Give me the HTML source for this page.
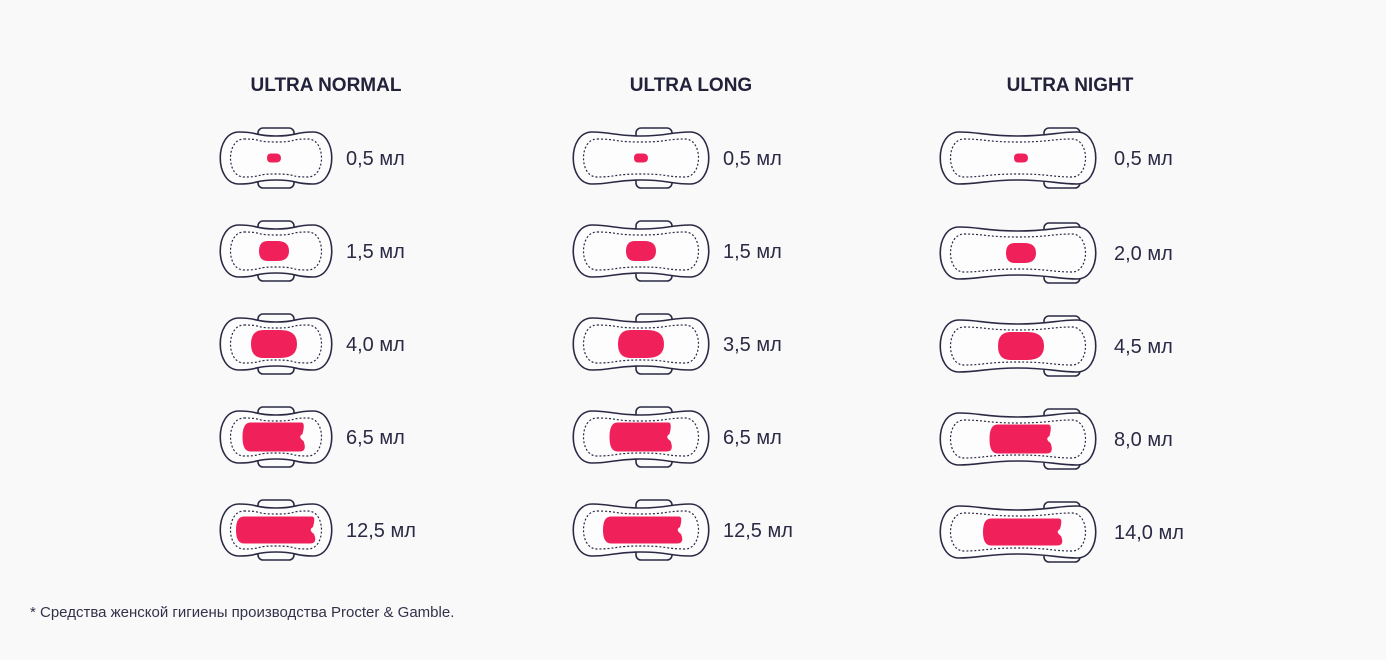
<!DOCTYPE html>
<html><head><meta charset="utf-8"><style>
body{margin:0;background:#f9f9f9;width:1386px;height:655px;overflow:hidden;font-family:"Liberation Sans","DejaVu Sans",sans-serif}
</style></head><body>
<svg id="s" width="1386" height="655" xmlns="http://www.w3.org/2000/svg">
<rect width="1386" height="655" fill="#f9f9f9"/>
<g font-family="Liberation Sans, DejaVu Sans, sans-serif" fill="#23223b">
<text x="326" y="91" font-size="19" font-weight="bold" text-anchor="middle">ULTRA NORMAL</text>
<text x="691" y="91" font-size="19" font-weight="bold" text-anchor="middle">ULTRA LONG</text>
<text x="1070" y="91" font-size="19" font-weight="bold" text-anchor="middle">ULTRA NIGHT</text>
<text x="30" y="617" font-size="15" fill="#33324a">* Средства женской гигиены производства Procter &amp; Gamble.</text>
</g>
<g id="pads"></g>
</svg>
<script>
var g=document.getElementById('pads'),out='';
function pad(cx,cy,w,h,wo){
 function p(L,R,t,b,cap,dip){return 'M'+L+' '+t+' C'+(L+20)+' '+t+' '+(cx-w*0.4)+' '+(t+dip)+' '+cx+' '+(t+dip)+' C'+(cx+w*0.4)+' '+(t+dip)+' '+(R-20)+' '+t+' '+R+' '+t+' C'+(R+cap)+' '+t+' '+(R+cap)+' '+b+' '+R+' '+b+' C'+(R-20)+' '+b+' '+(cx+w*0.4)+' '+(b-dip)+' '+cx+' '+(b-dip)+' C'+(cx-w*0.4)+' '+(b-dip)+' '+(L+20)+' '+b+' '+L+' '+b+' C'+(L-cap)+' '+b+' '+(L-cap)+' '+t+' '+L+' '+t+'Z';}
 var wc=cx+wo;
 out+='<rect x="'+(wc-18)+'" y="'+(cy-h-4)+'" width="36" height="'+(2*h+8)+'" rx="5" fill="#fbfbfb" stroke="#2b2a45" stroke-width="1.6"/>';
 out+='<path d="'+p(cx-w+19,cx+w-19,cy-h,cy+h,25,4)+'" fill="#fdfdfd" stroke="#2b2a45" stroke-width="1.6"/>';
 out+='<path d="'+p(cx-w+24,cx+w-24,cy-h+7,cy+h-7,18,3)+'" fill="none" stroke="#2b2a45" stroke-width="1.2" stroke-dasharray="2 2"/>';
}
function stain(x,y,w,h,notch){
 if(!notch){var l=x-w/2,r=x+w/2,t=y-h/2,b=y+h/2,rr=h*0.45;
 out+='<path d="M'+(l+rr)+' '+t+' L'+(r-h*0.6)+' '+t+' Q'+r+' '+t+' '+r+' '+y+' Q'+r+' '+b+' '+(r-h*0.6)+' '+b+' L'+(l+rr)+' '+b+' Q'+l+' '+b+' '+l+' '+y+' Q'+l+' '+t+' '+(l+rr)+' '+t+'Z" fill="#f0205a"/>';return;}
 var l=x-w/2,r=x+w/2,t=y-h/2,b=y+h/2;
 out+='<path d="M'+(l+8)+' '+t+' L'+(r-4)+' '+t+' Q'+r+' '+t+' '+(r-3)+' '+(y-3)+' Q'+(r-8)+' '+y+' '+(r-2)+' '+(y+4)+' Q'+(r+2)+' '+b+' '+(r-6)+' '+b+' L'+(l+8)+' '+b+' Q'+l+' '+b+' '+l+' '+y+' Q'+l+' '+t+' '+(l+8)+' '+t+'Z" fill="#f0205a"/>';
}
var cols=[{cx:276,w:56,wo:0,lx:346,ys:[158,251,344,437,530],sx:-2,labs:['0,5 мл','1,5 мл','4,0 мл','6,5 мл','12,5 мл']},
{cx:641,w:68,wo:13,lx:723,ys:[158,251,344,437,530],sx:0,labs:['0,5 мл','1,5 мл','3,5 мл','6,5 мл','12,5 мл']},
{cx:1018,w:78,wo:44,lx:1114,ys:[158,253,346,439,532],sx:3,labs:['0,5 мл','2,0 мл','4,5 мл','8,0 мл','14,0 мл']}];
var st=[[14,9,0],[30,20,0],[46,28,0],[63,29,1],[80,27,1]];
cols.forEach(function(c){c.ys.forEach(function(y,i){pad(c.cx,y,c.w,26,c.wo);var s=st[i];stain(c.cx+c.sx+(i==4?2:0),y,s[0],s[1],s[2]);
out+='<text x="'+c.lx+'" y="'+(y+7)+'" font-family="Liberation Sans, DejaVu Sans, sans-serif" font-size="20" fill="#2b2a45">'+c.labs[i]+'</text>';});});
g.innerHTML=out;
</script>
</body></html>
